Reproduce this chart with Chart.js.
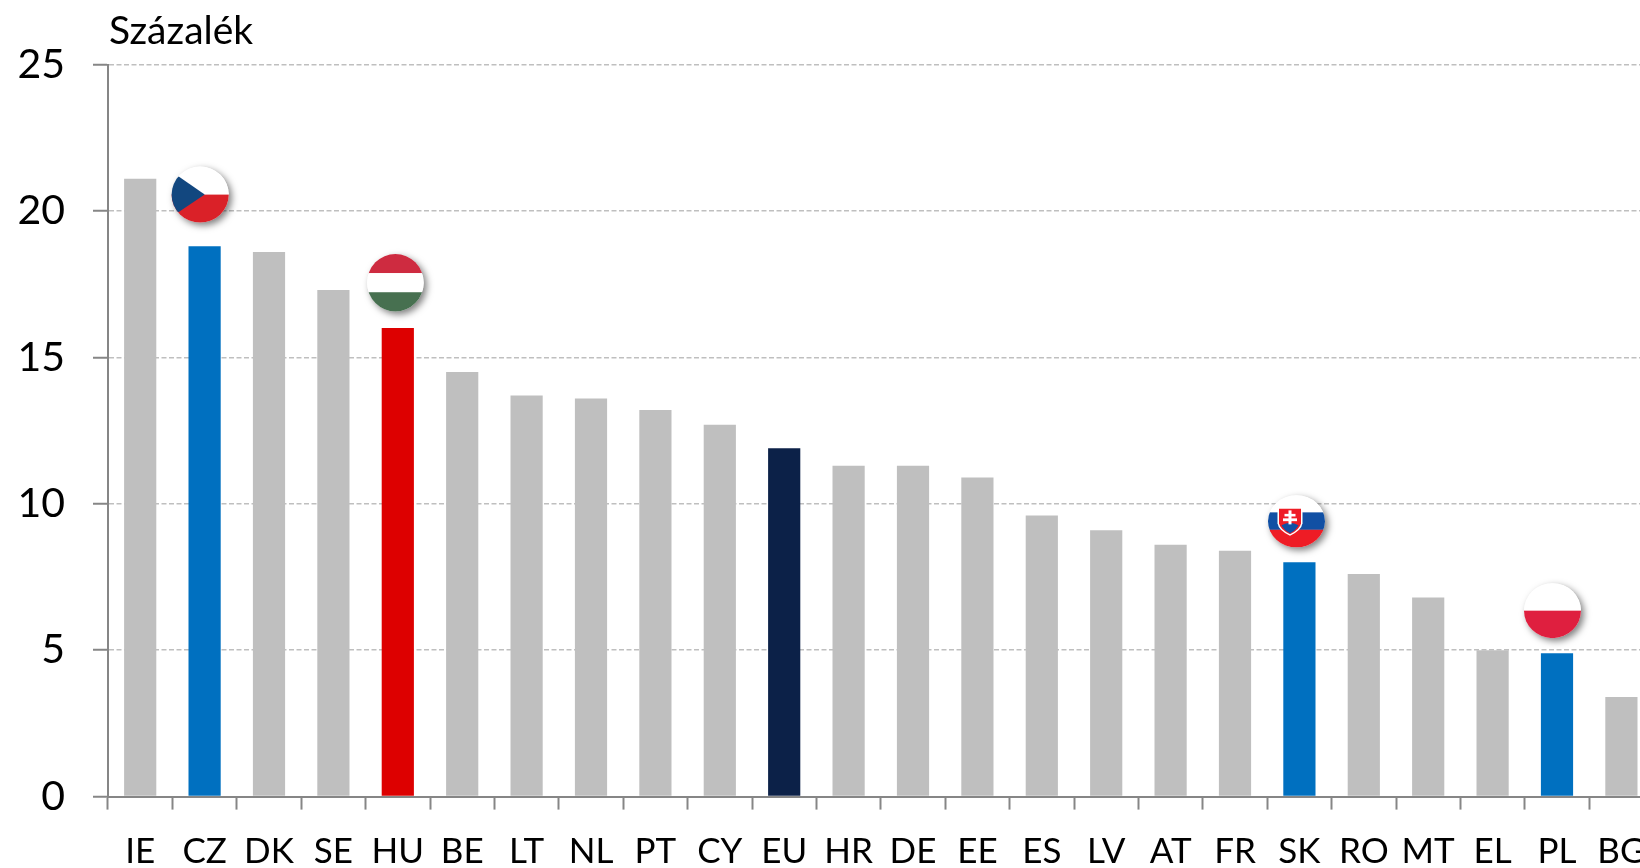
<!DOCTYPE html>
<html><head><meta charset="utf-8">
<script src="https://cdn.jsdelivr.net/npm/chart.js@4"></script>
<style>html,body{margin:0;padding:0;background:#fff;overflow:hidden;width:1640px;height:868px}
#w{position:absolute;left:0;top:0;width:1700px;height:868px}</style>
</head><body><div id="w"><canvas id="c" width="1700" height="868"></canvas></div>
<script>
const categories=["IE","CZ","DK","SE","HU","BE","LT","NL","PT","CY","EU","HR","DE","EE","ES","LV","AT","FR","SK","RO","MT","EL","PL","BG"];
const values=[21.1,18.8,18.6,17.3,16.0,14.5,13.7,13.6,13.2,12.7,11.9,11.3,11.3,10.9,9.6,9.1,8.6,8.4,8.0,7.6,6.8,5.0,4.9,3.4];
const yTicks=[0,5,10,15,20,25];
const unitLabel="Százalék";
const flagCountries=["CZ","HU","SK","PL"];
const flagValues=[20.56,17.55,9.4,6.35];
const GREY="#BFBFBF",BLUE="#0070C0",RED="#DD0000",NAVY="#0C2148";
const colorOf=c=>c==="HU"?RED:c==="EU"?NAVY:["CZ","SK","PL"].includes(c)?BLUE:GREY;
const FONT="Lato, 'Open Sans', sans-serif";

function band(ctx,x,y,w,h,col){ctx.fillStyle=col;ctx.fillRect(x,y,w,h);}
const painters={
 CZ(ctx,r){band(ctx,-r,-r,2*r,r,"#fff");band(ctx,-r,0,2*r,r,"#DA2128");
  ctx.fillStyle="#12477F";ctx.beginPath();ctx.moveTo(-21.5,-18);ctx.lineTo(4.5,0);ctx.lineTo(-21.5,17.5);ctx.lineTo(-r,17.5);ctx.lineTo(-r,-18);ctx.closePath();ctx.fill();},
 HU(ctx,r){band(ctx,-r,-r,2*r,r-9.5,"#CE2B40");band(ctx,-r,-9.6,2*r,19.2,"#fff");band(ctx,-r,9.5,2*r,r,"#477050");},
 SK(ctx,r){band(ctx,-r,-r,2*r,r-9,"#fff");band(ctx,-r,-9,2*r,17.5,"#1150A4");band(ctx,-r,8.4,2*r,r,"#EE1C25");
  ctx.fillStyle="#fff";ctx.beginPath();ctx.moveTo(-19,-14);ctx.lineTo(6,-14);ctx.lineTo(6,2);ctx.quadraticCurveTo(5,9,-6.5,14.5);ctx.quadraticCurveTo(-18,9,-19,2);ctx.closePath();ctx.fill();
  ctx.fillStyle="#EE1C25";ctx.beginPath();ctx.moveTo(-17.5,-12.5);ctx.lineTo(4.5,-12.5);ctx.lineTo(4.5,2);ctx.quadraticCurveTo(3.5,8,-6.5,13);ctx.quadraticCurveTo(-16.5,8,-17.5,2);ctx.closePath();ctx.fill();
  ctx.fillStyle="#1150A4";ctx.beginPath();ctx.moveTo(-15,4);ctx.quadraticCurveTo(-6.5,-1,2,4);ctx.quadraticCurveTo(0,8.5,-6.5,12);ctx.quadraticCurveTo(-13,8.5,-15,4);ctx.fill();
  ctx.fillStyle="#fff";ctx.fillRect(-8,-11,3,14);ctx.fillRect(-12,-7.5,11,2.6);ctx.fillRect(-13.5,-3,14,2.8);},
 PL(ctx,r){band(ctx,-r,-r,2*r,r,"#fff");band(ctx,-r,0,2*r,r,"#DF1F3F");}
};
const flagShape={CZ:{dx:-4.4,rx:28.6,ry:28},HU:{dx:-2.4,rx:28.3,ry:28.8},SK:{dx:-2.9,rx:28.5,ry:26},PL:{dx:-4.5,rx:28.5,ry:27.5}};

const overlay={id:"overlay",afterDatasetsDraw(ch){
 const {ctx,scales:{x,y},chartArea:a}=ch;
 ctx.save();
 ctx.fillStyle="#000";ctx.font="39px "+FONT;ctx.textAlign="left";ctx.textBaseline="alphabetic";
 ctx.fillText(unitLabel,a.left+1,44);
 flagCountries.forEach((c,i)=>{
  const s=flagShape[c],cx=x.getPixelForValue(categories.indexOf(c))+s.dx,cy=y.getPixelForValue(flagValues[i]);
  ctx.save();
  ctx.shadowColor="rgba(0,0,0,.5)";ctx.shadowBlur=7;ctx.shadowOffsetX=3;ctx.shadowOffsetY=3;
  ctx.fillStyle="#fff";ctx.beginPath();ctx.ellipse(cx,cy,s.rx,s.ry,0,0,Math.PI*2);ctx.fill();
  ctx.restore();
  ctx.save();ctx.beginPath();ctx.ellipse(cx,cy,s.rx,s.ry,0,0,Math.PI*2);ctx.clip();
  ctx.translate(cx,cy);painters[c](ctx,Math.max(s.rx,s.ry)+1);ctx.restore();
 });
 ctx.restore();
}};

new Chart(document.getElementById("c"),{
 type:"bar",
 data:{labels:categories,datasets:[{data:values,backgroundColor:categories.map(colorOf),barPercentage:1,categoryPercentage:0.5,borderWidth:0}]},
 plugins:[overlay],
 options:{responsive:false,animation:false,events:[],
  layout:{padding:{left:0,top:64.6,right:46.4,bottom:0}},
  plugins:{legend:{display:false},tooltip:{enabled:false},title:{display:false}},
  scales:{
   x:{afterFit(s){s.height=71.4;},
    grid:{drawOnChartArea:false,drawTicks:true,tickLength:13,tickColor:"#868686",tickWidth:2,color:"#868686"},
    border:{display:true,color:"#868686",width:2},
    ticks:{color:"#000",font:{family:FONT,size:35},padding:21,maxRotation:0,autoSkip:false}},
   y:{min:0,max:25,afterFit(s){s.width=108;},
    afterBuildTicks(s){s.ticks=yTicks.map(v=>({value:v}));},
    grid:{color:"#BFBFBF",lineWidth:1.5,drawTicks:true,tickLength:15,tickColor:"#868686",tickWidth:2,tickBorderDash:[]},
    border:{display:true,color:"#868686",width:2,dash:[5,2.5]},
    ticks:{color:"#000",font:{family:FONT,size:41},padding:28}}
  }}
});
</script></body></html>
